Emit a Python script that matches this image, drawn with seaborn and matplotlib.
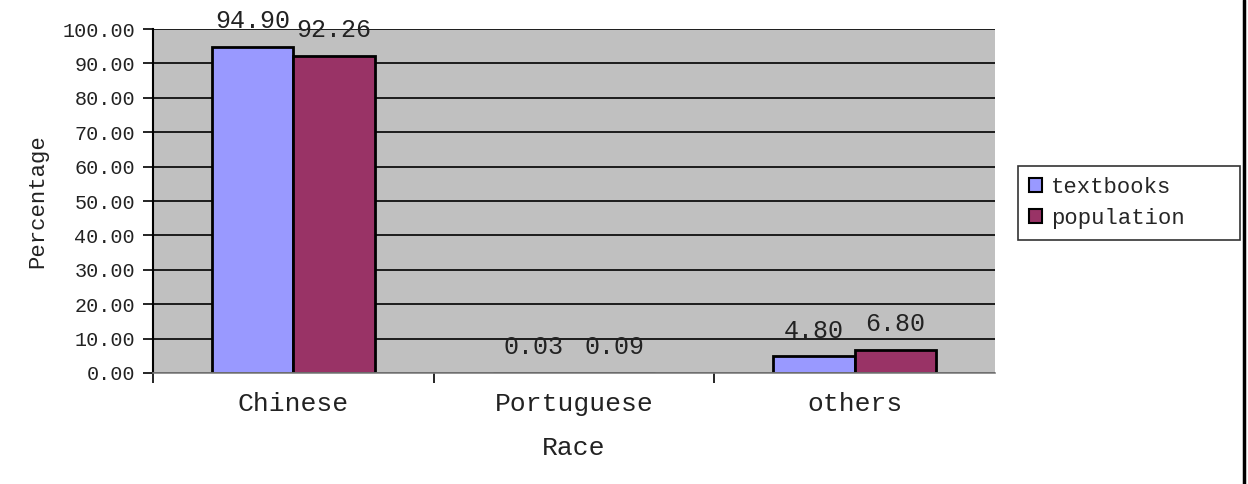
import matplotlib
matplotlib.use("Agg")
import matplotlib.pyplot as plt
from matplotlib.lines import Line2D
from matplotlib.ticker import FixedLocator
import seaborn as sns
import pandas as pd

categories = ["Chinese", "Portuguese", "others"]
series_names = ["textbooks", "population"]
textbooks = [94.90, 0.03, 4.80]
population = [92.26, 0.09, 6.80]
y_ticks = [0, 10, 20, 30, 40, 50, 60, 70, 80, 90, 100]
colors = ["#9999FF", "#993366"]

df = pd.DataFrame({
    "Race": categories * 2,
    "Percentage": textbooks + population,
    "Series": [series_names[0]] * 3 + [series_names[1]] * 3,
})

sns.set_theme(style="white")
plt.rcParams["font.family"] = ["Liberation Mono", "DejaVu Sans Mono"]

fig = plt.figure(figsize=(12.48, 4.84), dpi=100)
ax = fig.add_axes([153 / 1248, 1 - 373 / 484, (995 - 153) / 1248, (373 - 29) / 484])
ax.set_facecolor("#C0C0C0")
ax.set_axisbelow(True)

sns.barplot(data=df, x="Race", y="Percentage", hue="Series", palette=colors,
            width=0.58, edgecolor="black", linewidth=2, ax=ax, saturation=1)

for cont in ax.containers:
    ax.bar_label(cont, fmt="%.2f", padding=10, fontsize=18, color="#222222")

ax.set_ylim(0, 100)
ax.set_xlim(-0.5, 2.5)
ax.set_yticks(y_ticks)
ax.set_yticklabels([f"{v:.2f}" for v in y_ticks], fontsize=14.5, color="#222222")
ax.yaxis.grid(True, color="black", linewidth=1.2)
ax.tick_params(axis="y", direction="out", length=7, width=1.2, color="black", pad=6, left=True)
ax.tick_params(axis="x", which="major", length=0, pad=14, labelsize=19, labelcolor="#222222")
ax.xaxis.set_minor_locator(FixedLocator([-0.5, 0.5, 1.5]))
ax.tick_params(axis="x", which="minor", direction="out", length=7, width=1.2, color="black", bottom=True)

for s in ["top", "right"]:
    ax.spines[s].set_visible(False)
ax.spines["left"].set_color("black")
ax.spines["left"].set_linewidth(1.5)
ax.spines["bottom"].set_color("#808080")
ax.spines["bottom"].set_linewidth(1.2)

ax.set_xlabel("Race", fontsize=19, labelpad=14, color="#222222")
ax.set_ylabel("Percentage", fontsize=16, labelpad=10, color="#222222")

leg = ax.legend(loc="upper left", mode="expand",
                bbox_to_anchor=(1018 / 1248, 1 - 238 / 484, 222 / 1248, 72 / 484),
                bbox_transform=fig.transFigure, fontsize=16, frameon=True,
                fancybox=False, edgecolor="black", handlelength=0.6,
                handleheight=0.6, handletextpad=0.4, borderpad=0.5,
                labelspacing=0.45, borderaxespad=0)
leg.get_frame().set_linewidth(1.2)
leg._legend_box.align = "left"
for h in leg.legend_handles:
    h.set_edgecolor("black")
    h.set_linewidth(1.5)

fig.add_artist(Line2D([1244 / 1248, 1244 / 1248], [0, 1], color="black", linewidth=2.5,
                      transform=fig.transFigure))

fig.savefig("out.png", dpi=100)
